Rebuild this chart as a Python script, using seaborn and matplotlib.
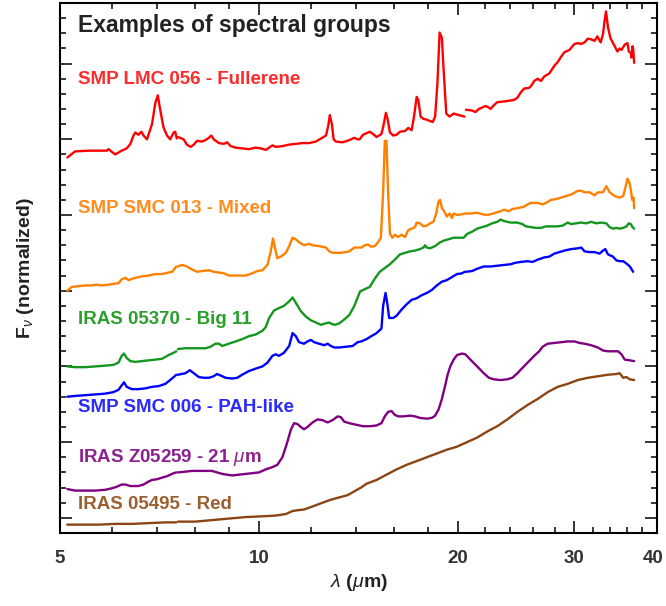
import numpy as np
import pandas as pd
import matplotlib
matplotlib.use("Agg")
import matplotlib.pyplot as plt
import matplotlib.transforms as mtransforms
import seaborn as sns
from matplotlib.ticker import FixedLocator, FixedFormatter, NullFormatter, MultipleLocator

nan = np.nan

# ---------------- data (wavelength in micron, normalized flux + offset) ----------------
fullerene_wl = [5.13, 5.27, 5.52, 5.89, 5.92, 6.06, 6.20, 6.31, 6.39, 6.46, 6.50, 6.57, 6.64, 6.69, 6.77,
                6.89, 6.97, 7.03, 7.09, 7.17, 7.26, 7.34, 7.43, 7.47, 7.51, nan,
                7.54, 7.69, 7.78, 7.88, 7.97, 8.06, 8.20, 8.30, 8.40, 8.47, 8.54, 8.70, 8.85, 8.95, 9.06,
                9.22, 9.43, 9.66, 9.88, 10.06, 10.24, 10.36, 10.48, 10.60, 10.85, 11.11, 11.37, 11.63,
                11.91, 12.19, 12.41, 12.63, 12.73, 12.80, 12.89, 12.97, 13.07, 13.38, 13.70, 13.94, 14.10,
                14.20, 14.37, 14.71, 14.88, 15.06, 15.32, 15.41, 15.56, 15.65, 15.78, 15.96, 16.15, 16.34,
                16.63, 16.82, 17.02, 17.16, 17.32, 17.42, 17.56, 17.73, 17.94, 18.15, 18.32, 18.47, 18.62,
                18.76, 18.91, 19.02, 19.20, 19.42, 19.70, 20.05, 20.46, nan,
                20.56, 21.01, 21.25, 21.50, 21.76, 22.01, 22.27, 22.40, 22.66, 22.93, 23.47, 23.89, 24.31,
                24.60, 24.89, 25.18, 25.62, 25.78, 26.08, 26.39, 26.70, 27.01, 27.49, 27.97, 28.30, 28.64,
                28.97, 29.48, 30.01, 30.36, 30.72, 31.08, 31.44, 31.81, 32.18, 32.49, 32.87, 33.14, 33.33,
                33.49, 33.72, 34.00, 34.32, 34.52, 34.85, 35.13, 35.34, 35.75, 36.09, 36.26, 36.51, 36.60,
                36.73, 36.81, 36.94]
fullerene_fl = [4.76, 4.84, 4.85, 4.85, 4.87, 4.80, 4.85, 4.88, 4.94, 5.05, 5.09, 5.06, 5.10, 5.05, 5.00,
                5.20, 5.48, 5.58, 5.39, 5.16, 5.05, 5.00, 5.09, 5.10, 5.01, nan,
                5.03, 5.00, 4.93, 4.90, 4.93, 4.98, 4.97, 4.99, 5.02, 5.05, 5.00, 4.95, 4.94, 4.96, 4.91,
                4.89, 4.88, 4.87, 4.89, 4.88, 4.86, 4.89, 4.92, 4.90, 4.91, 4.93, 4.94, 4.95,
                4.95, 4.97, 5.01, 5.05, 5.18, 5.32, 5.20, 5.00, 4.97, 4.96, 4.99, 5.02, 5.00,
                5.00, 5.06, 5.10, 5.07, 5.03, 5.07, 5.16, 5.35, 5.27, 5.09, 5.05, 5.06, 5.10,
                5.11, 5.15, 5.12, 5.30, 5.56, 5.52, 5.30, 5.27, 5.26, 5.24, 5.23, 5.30, 5.75,
                6.41, 6.34, 5.93, 5.34, 5.30, 5.34, 5.32, 5.30, nan,
                5.39, 5.38, 5.36, 5.40, 5.42, 5.44, 5.42, 5.40, 5.45, 5.49, 5.50, 5.51, 5.52,
                5.55, 5.62, 5.67, 5.68, 5.70, 5.77, 5.80, 5.77, 5.83, 5.87, 5.97, 6.02, 6.09,
                6.15, 6.18, 6.26, 6.27, 6.26, 6.28, 6.33, 6.32, 6.30, 6.36, 6.28, 6.39, 6.57,
                6.69, 6.48, 6.34, 6.27, 6.23, 6.16, 6.20, 6.18, 6.25, 6.27, 6.16, 6.14, 6.08,
                6.23, 6.20, 6.01]

mixed_wl = [5.13, 5.21, 5.33, 5.46, 5.58, 5.68, 5.78, 5.92, 6.02, 6.13, 6.20, 6.28, 6.35, 6.50, 6.65,
            6.81, 6.97, 7.13, 7.30, 7.39, 7.50, nan,
            7.54, 7.65, 7.78, 7.92, 8.06, 8.20, 8.40, 8.54, 8.70, 8.85, 9.00, 9.16, 9.32, 9.54, 9.77,
            9.94, 10.12, 10.30, 10.42, 10.50, 10.57, 10.66, 10.79, 10.98, 11.11, 11.24, 11.37, 11.50,
            11.70, 11.91, 12.05, 12.33, 12.63, 12.77, 12.92, 13.23, 13.54, 13.70, 13.94, 14.10,
            14.28, 14.45, 14.62, 14.79, 14.97, 15.14, 15.29, 15.41, 15.50, 15.59, 15.68, 15.78, 15.92,
            16.05, 16.24, 16.43, 16.63, 16.82, 17.02, 17.22, 17.32, 17.52, 17.73, 17.94, 18.15, 18.36,
            18.54, 18.69, 18.80, 18.91, 19.06, 19.24, 19.42, 19.58, 19.70, 19.93, 20.28, 20.52, 20.88,
            21.38, 21.76, 22.14, 22.40, 22.80, 23.20, 23.47, 23.89, 24.17, 24.60, 25.18, 25.48, 25.78,
            26.39, 26.85, 27.17, 27.65, 28.14, 28.64, 29.14, 29.66, 30.36, 30.72, 31.08, 31.63, 32.18,
            32.56, 33.14, 33.53, 33.92, 34.52, 35.13, 35.55, 35.83, 36.09, 36.39, 36.60, 36.68, 36.86,
            36.94]
mixed_fl = [3.00, 3.05, 3.06, 3.07, 3.07, 3.08, 3.07, 3.08, 3.09, 3.10, 3.15, 3.17, 3.14, 3.17, 3.19,
            3.20, 3.22, 3.22, 3.24, 3.25, 3.32, nan,
            3.32, 3.34, 3.32, 3.28, 3.25, 3.26, 3.27, 3.25, 3.24, 3.23, 3.20, 3.20, 3.20, 3.20, 3.23,
            3.26, 3.27, 3.34, 3.52, 3.69, 3.57, 3.43, 3.45, 3.50, 3.59, 3.70, 3.68, 3.64,
            3.60, 3.62, 3.60, 3.59, 3.57, 3.52, 3.50, 3.50, 3.51, 3.52, 3.57, 3.57,
            3.57, 3.60, 3.61, 3.58, 3.59, 3.64, 3.70, 4.30, 4.98, 4.98, 4.30, 3.75, 3.70,
            3.74, 3.71, 3.74, 3.71, 3.80, 3.82, 3.84, 3.90, 3.89, 3.85, 3.86, 3.89, 3.91,
            4.02, 4.18, 4.20, 4.09, 4.05, 3.98, 4.02, 3.96, 4.02, 4.00, 4.01, 4.02, 4.02,
            4.03, 4.01, 4.00, 4.01, 4.03, 4.05, 4.07, 4.05, 4.08, 4.09, 4.11, 4.14, 4.16,
            4.16, 4.14, 4.16, 4.20, 4.21, 4.23, 4.25, 4.27, 4.32, 4.32, 4.30, 4.30, 4.26,
            4.30, 4.30, 4.38, 4.30, 4.25, 4.23, 4.25, 4.36, 4.48, 4.41, 4.27, 4.20, 4.23,
            4.09]

big11_wl = [5.13, 5.27, 5.46, 5.65, 5.85, 6.02, 6.13, 6.20, 6.25, 6.31, 6.39, 6.50, 6.65, 6.81, 6.97,
            7.13, 7.30, 7.43, 7.50, nan,
            7.54, 7.74, 7.92, 8.11, 8.30, 8.45, 8.59, 8.70, 8.80, 9.00, 9.22, 9.43, 9.66, 9.88, 10.12,
            10.24, 10.36, 10.54, 10.72, 10.91, 11.11, 11.24, 11.37, 11.57, 11.77, 11.98, 12.19, 12.41,
            12.63, 12.77, 12.89, 13.04, 13.23, 13.46, 13.70, 13.94, 14.10, 14.22,
            14.37, 14.54, 14.71, 14.97, 15.23, 15.50, 15.78, 16.05, 16.34, 16.63, 16.92, 17.22, 17.52,
            17.73, 17.83, 17.94, 18.15, 18.47, 18.80, 19.02, 19.36, 19.70, 20.05, 20.40, 20.64, 21.01,
            21.38, 21.76, 22.14, 22.53, 22.93, 23.20, 23.47, 24.03, 24.60, 25.03, 25.33, 25.78, 26.23,
            26.70, 27.17, 27.65, 28.30, 28.80, 29.31, 29.66, 30.18, 30.72, 31.26, 31.81, 32.37, 32.94,
            33.53, 33.92, 34.32, 34.72, 35.13, 35.55, 35.96, 36.26, 36.51, 36.73, 36.94]
big11_fl = [2.00, 1.99, 1.99, 2.00, 2.01, 2.02, 2.05, 2.14, 2.17, 2.11, 2.07, 2.06, 2.07, 2.08, 2.09,
            2.10, 2.15, 2.18, 2.20, nan,
            2.23, 2.24, 2.24, 2.24, 2.24, 2.26, 2.30, 2.30, 2.27, 2.30, 2.33, 2.36, 2.40, 2.42, 2.47,
            2.52, 2.64, 2.74, 2.77, 2.80, 2.86, 2.91, 2.84, 2.73, 2.66, 2.61, 2.58, 2.55,
            2.57, 2.58, 2.56, 2.55, 2.57, 2.62, 2.68, 2.80, 2.91, 2.99,
            3.01, 3.03, 3.05, 3.16, 3.25, 3.30, 3.35, 3.41, 3.48, 3.50, 3.52, 3.53, 3.55,
            3.57, 3.60, 3.57, 3.56, 3.59, 3.64, 3.66, 3.68, 3.70, 3.70, 3.70, 3.75, 3.78,
            3.82, 3.84, 3.86, 3.89, 3.91, 3.94, 3.92, 3.90, 3.90, 3.88, 3.85, 3.84, 3.83,
            3.83, 3.85, 3.85, 3.85, 3.86, 3.90, 3.88, 3.89, 3.90, 3.89, 3.91, 3.89, 3.90,
            3.89, 3.84, 3.82, 3.83, 3.82, 3.83, 3.85, 3.89, 3.88, 3.84, 3.82]

pah_wl = [5.13, 5.27, 5.46, 5.65, 5.85, 6.02, 6.13, 6.20, 6.25, 6.31, 6.42, 6.57, 6.73, 6.89, 7.05,
          7.22, 7.34, 7.50, nan,
          7.54, 7.74, 7.86, 7.97, 8.11, 8.25, 8.40, 8.54, 8.64, 8.75, 8.90, 9.11, 9.27, 9.43, 9.66,
          9.88, 10.12, 10.30, 10.48, 10.60, 10.72, 10.91, 11.11, 11.24, 11.37, 11.50, 11.70, 11.84,
          11.98, 12.12, 12.33, 12.55, 12.70, 12.85, 13.00, 13.23, 13.54, 13.86, 14.10,
          14.28, 14.54, 14.79, 15.06, 15.32, 15.41, 15.54, 15.63, 15.74, 15.96, 16.15, 16.43, 16.72,
          17.02, 17.32, 17.62, 17.94, 18.26, 18.58, 18.91, 19.24, 19.58, 19.93, 20.28, 20.48, nan,
          20.56, 21.01, 21.38, 21.88, 22.40, 22.93, 23.47, 24.03, 24.45, 24.89, 25.48, 25.93, 26.39,
          27.01, 27.49, 27.97, 28.47, 28.97, 29.66, 30.36, 30.72, 31.08, 31.63, 32.18, 32.75, 33.14,
          33.41, 33.72, 34.32, 34.72, 35.13, 35.55, 35.96, 36.39, 36.81]
pah_fl = [1.60, 1.61, 1.62, 1.63, 1.64, 1.66, 1.69, 1.75, 1.79, 1.73, 1.70, 1.70, 1.71, 1.73, 1.74,
          1.77, 1.82, 1.89, nan,
          1.89, 1.91, 1.95, 1.91, 1.86, 1.85, 1.85, 1.87, 1.90, 1.88, 1.85, 1.84, 1.85, 1.89, 1.94,
          1.97, 2.00, 2.05, 2.14, 2.16, 2.14, 2.18, 2.27, 2.44, 2.40, 2.32, 2.30, 2.33,
          2.35, 2.32, 2.30, 2.28, 2.30, 2.27, 2.25, 2.25, 2.26, 2.27, 2.32,
          2.33, 2.36, 2.40, 2.44, 2.50, 2.80, 2.97, 2.84, 2.64, 2.64, 2.67, 2.75, 2.82,
          2.88, 2.90, 2.94, 2.97, 3.01, 3.07, 3.12, 3.14, 3.18, 3.22, 3.23, 3.25, nan,
          3.25, 3.26, 3.29, 3.32, 3.32, 3.33, 3.34, 3.35, 3.37, 3.38, 3.39, 3.38, 3.41,
          3.44, 3.45, 3.49, 3.51, 3.53, 3.55, 3.56, 3.57, 3.52, 3.51, 3.51, 3.49, 3.53,
          3.55, 3.48, 3.45, 3.40, 3.39, 3.39, 3.36, 3.32, 3.25]

um21_wl = [5.13, 5.27, 5.46, 5.65, 5.85, 5.99, 6.09, 6.20, 6.28, 6.39, 6.57, 6.69, 6.81, 6.89, 7.01,
           7.13, 7.26, 7.43, 7.50, nan,
           7.54, 7.74, 7.92, 8.11, 8.30, 8.49, 8.64, 8.80, 8.95, 9.11, 9.32, 9.54, 9.77, 10.00, 10.24,
           10.48, 10.66, 10.85, 11.02, 11.17, 11.30, 11.43, 11.57, 11.70, 11.84, 12.05, 12.26, 12.48,
           12.70, 12.92, 13.15, 13.30, 13.46, 13.70, 14.02,
           14.37, 14.71, 15.06, 15.32, 15.50, 15.68, 15.87, 16.05, 16.24, 16.53, 16.92, 17.22, 17.52,
           17.94, 18.26, 18.47, 18.69, 18.91, 19.13, 19.29, 19.47, 19.70, 19.93, 20.28, 20.52, 20.88,
           21.38, 21.88, 22.27, 22.66, 23.20, 23.75, 24.17, 24.60, 25.03, 25.62, 26.08, 26.54, 26.85,
           27.33, 27.97, 28.64, 29.31, 30.01, 30.54, 31.08, 31.81, 32.56, 33.14, 33.72, 34.52, 34.93,
           35.34, 35.75, 36.39, 36.94]
um21_fl = [0.38, 0.36, 0.36, 0.36, 0.37, 0.39, 0.41, 0.44, 0.44, 0.42, 0.42, 0.44, 0.48, 0.50, 0.51,
           0.53, 0.55, 0.59, 0.60, nan,
           0.60, 0.61, 0.62, 0.62, 0.62, 0.62, 0.60, 0.58, 0.57, 0.56, 0.57, 0.58, 0.59, 0.60, 0.64,
           0.67, 0.70, 0.80, 0.98, 1.16, 1.25, 1.24, 1.20, 1.17, 1.20, 1.26, 1.30, 1.29,
           1.26, 1.29, 1.34, 1.33, 1.27, 1.25, 1.23,
           1.21, 1.21, 1.22, 1.25, 1.34, 1.40, 1.41, 1.36, 1.34, 1.34, 1.35, 1.34, 1.32,
           1.31, 1.32, 1.35, 1.43, 1.57, 1.75, 1.89, 2.00, 2.09, 2.15, 2.17, 2.16, 2.09,
           2.00, 1.91, 1.85, 1.83, 1.82, 1.83, 1.85, 1.91, 1.98, 2.07, 2.14, 2.20, 2.26,
           2.30, 2.31, 2.32, 2.33, 2.33, 2.31, 2.30, 2.28, 2.25, 2.21, 2.20, 2.20, 2.20,
           2.16, 2.09, 2.08, 2.07]

red_wl = [5.13, 5.39, 5.72, 6.06, 6.42, 6.81, 7.22, 7.50, nan,
          7.54, 8.01, 8.49, 9.00, 9.54, 10.12, 10.60, 10.98, 11.24, 11.43, 11.70, 12.05, 12.48,
          12.85, 13.23, 13.62, 13.94, 14.27, 14.54, 15.06, 15.59, 16.15, 16.72, 17.32, 17.94, 18.58,
          19.24, 19.93, 20.64, 21.38, 22.14, 22.93, 23.75, 24.60, 25.48, 26.39, 27.33, 28.30, 29.31,
          30.36, 31.44, 32.56, 33.72, 34.72, 35.13, 35.55, 35.96, 36.39, 36.94]
red_fl = [-0.09, -0.09, -0.09, -0.08, -0.08, -0.07, -0.06, -0.06, nan,
          -0.05, -0.05, -0.03, -0.01, 0.01, 0.02, 0.03, 0.05, 0.09, 0.10, 0.11, 0.15, 0.20,
          0.24, 0.27, 0.30, 0.35, 0.40, 0.45, 0.50, 0.57, 0.64, 0.70, 0.75, 0.80, 0.85,
          0.90, 0.94, 1.00, 1.06, 1.14, 1.21, 1.30, 1.40, 1.49, 1.57, 1.66, 1.73, 1.77,
          1.82, 1.85, 1.87, 1.89, 1.90, 1.91, 1.85, 1.86, 1.83, 1.82]

names = ["SMP LMC 056 - Fullerene", "SMP SMC 013 - Mixed", "IRAS 05370 - Big 11",
         "SMP SMC 006 - PAH-like", "IRAS Z05259 - 21 $\\mu$m", "IRAS 05495 - Red"]
wls = [fullerene_wl, mixed_wl, big11_wl, pah_wl, um21_wl, red_wl]
fls = [fullerene_fl, mixed_fl, big11_fl, pah_fl, um21_fl, red_fl]
colors = ["#ff0000", "#ff8000", "#14961e", "#0000ff", "#800080", "#8b4513"]
label_colors = ["#ff2a2a", "#ff8c1e", "#2aa02a", "#2a2aff", "#8c2090", "#9a6030"]
label_y = [0.855, 0.613, 0.402, 0.236, 0.143, 0.053]

x_major = [5, 10, 20, 30, 40]
x_major_labels = ["5", "10", "20", "30", "40"]
x_minor = [6, 7, 8, 9, 12, 14, 16, 18, 22, 24, 26, 28, 32, 34, 36, 38]

# ---------------- build long table with segment ids (gaps = NaN) ----------------
rows = []
for name, wl, fl in zip(names, wls, fls):
    seg = 0
    for w, f in zip(wl, fl):
        if np.isnan(w):
            seg += 1
            continue
        rows.append((name, f"{name}_{seg}", w, f))
df = pd.DataFrame(rows, columns=["source", "seg", "wavelength", "flux"])

# ---------------- styling ----------------
sns.set_style("ticks")
plt.rcParams["font.family"] = ["Liberation Sans", "DejaVu Sans"]
plt.rcParams["mathtext.fontset"] = "custom"
plt.rcParams["mathtext.it"] = "Liberation Sans:italic"
plt.rcParams["mathtext.rm"] = "Liberation Sans:bold"
plt.rcParams["mathtext.bf"] = "Liberation Sans:bold"

fig = plt.figure(figsize=(6.66, 6.06), dpi=100)
ax = fig.add_axes([0.090, 0.1205, 0.8965, 0.8745])

for name, c in zip(names, colors):
    sub = df[df["source"] == name]
    sns.lineplot(data=sub, x="wavelength", y="flux", units="seg", estimator=None,
                 color=c, lw=1.7, ax=ax, legend=False, sort=False)

ax.set_xscale("log")
ax.set_xlim(5, 40)
ax.set_ylim(-0.2, 6.8)
ax.xaxis.set_major_locator(FixedLocator(x_major))
ax.xaxis.set_major_formatter(FixedFormatter(x_major_labels))
ax.xaxis.set_minor_locator(FixedLocator(x_minor))
ax.xaxis.set_minor_formatter(NullFormatter())
ax.yaxis.set_major_locator(MultipleLocator(1.0))
ax.yaxis.set_minor_locator(MultipleLocator(0.2))

ax.tick_params(which="both", direction="in", top=True, right=True, labelleft=False,
               colors="black", labelcolor="#333333")
ax.tick_params(which="major", length=8.5, width=1.1, labelsize=13.5, pad=12)
ax.tick_params(which="minor", length=4.3, width=1.1)
for s in ax.spines.values():
    s.set_linewidth(1.5)
    s.set_color("black")

fig.canvas.draw()
xt = ax.get_xticklabels()
for lab in xt:
    lab.set_fontweight("bold")
# keep the last label ("40") fully inside the canvas
xt[-1].set_transform(xt[-1].get_transform() +
                     mtransforms.ScaledTranslation(-3 / 72, 0, fig.dpi_scale_trans))

ax.set_xlabel("$\\lambda$ ($\\mu$m)", fontsize=14, fontweight="bold", color="#222222", labelpad=4)
ax.set_ylabel("F$_\\nu$ (normalized)", fontsize=14, fontweight="bold", color="#222222", labelpad=17)

ax.text(0.03, 0.957, "Examples of spectral groups", transform=ax.transAxes,
        fontsize=16.5, fontweight="bold", color="#222222", va="center", ha="left")
for name, c, y in zip(names, label_colors, label_y):
    ax.text(0.03, y, name, transform=ax.transAxes, fontsize=13.5, fontweight="bold",
            color=c, va="center", ha="left")

fig.savefig("out.png", dpi=100)
